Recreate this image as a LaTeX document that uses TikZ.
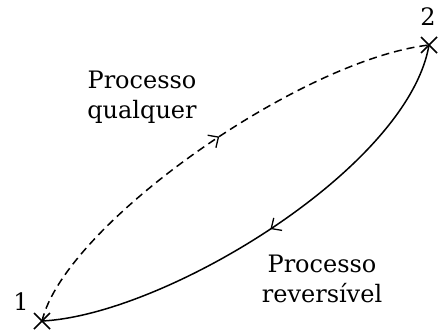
\documentclass[tikz,border=0pt]{standalone}
\usepackage{fontspec}
\setmainfont{DejaVu Serif}
\usetikzlibrary{decorations.markings,arrows.meta,calc}
\begin{document}
\begin{tikzpicture}[x=1pt,y=-1pt,
  lbl/.style={font=\fontsize{24}{30}\selectfont,align=center,inner sep=0pt},
  curve/.style={line width=1.5pt},
  midarrow/.style={postaction={decorate},decoration={markings,
     mark=at position #1 with {\arrow[solid,line width=1.3pt]{Straight Barb[length=8pt,width=15pt]}}}},
  crossmark/.style={line width=1.5pt}]
\useasboundingbox (0,0) rectangle (438,330);
\coordinate (p1) at (42,321);
\coordinate (p2) at (429,45);
\draw[crossmark] ($(p1)+(-8,-8)$) -- ($(p1)+(8,8)$) ($(p1)+(-8,8)$) -- ($(p1)+(8,-8)$);
\draw[crossmark] ($(p2)+(-8,-8)$) -- ($(p2)+(8,8)$) ($(p2)+(-8,8)$) -- ($(p2)+(8,-8)$);
\draw[curve,dash pattern=on 8pt off 5pt,midarrow=0.53] (p1) .. controls (65,225) and (300,60) .. (p2);
\draw[curve,midarrow=0.5] (p2) .. controls (408,168) and (165,315) .. (p1);
\node[lbl,anchor=base] (n1) at (21,310) {1};
\node[lbl,anchor=base] (n2) at (428,25) {2};
\node[lbl,anchor=base] (l1) at (142,118) {Processo\\qualquer};
\node[lbl,anchor=base] (l2) at (322,302) {Processo\\reversível};
\end{tikzpicture}
\end{document}
